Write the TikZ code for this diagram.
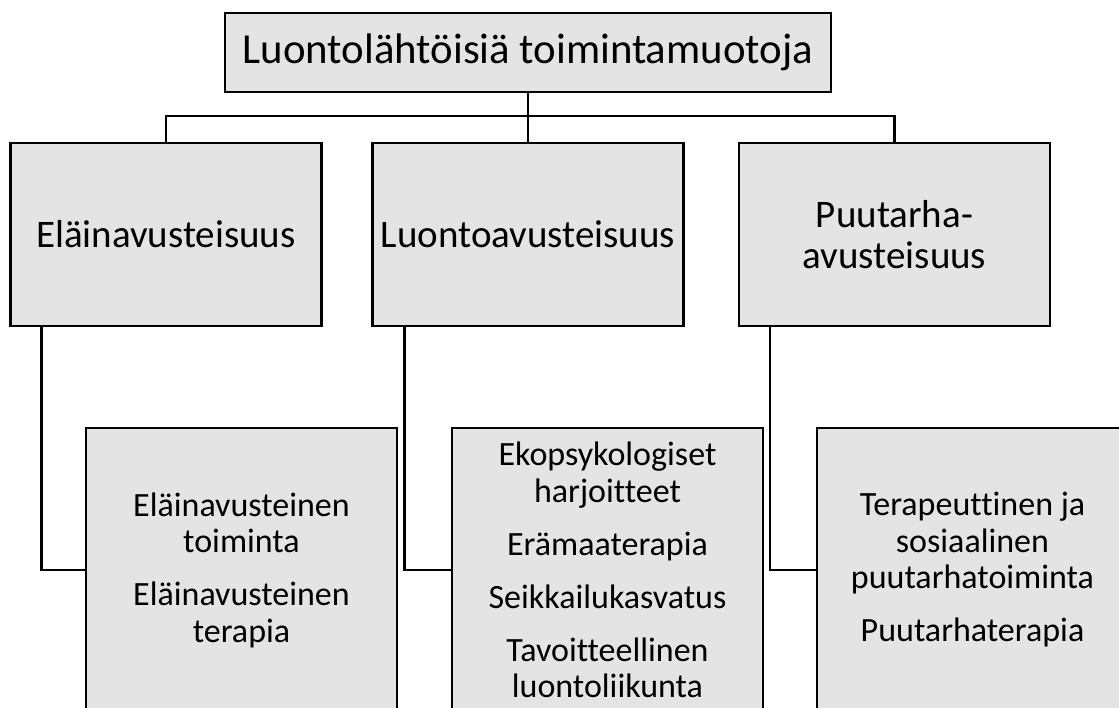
\documentclass[tikz,border=0pt]{standalone}
\usepackage{fontspec}
\setmainfont{Carlito}[Ligatures=NoCommon]
\definecolor{boxfill}{RGB}{228,228,228}
\begin{document}
\begin{tikzpicture}[x=1pt,y=-1pt,
  box/.style={draw=black,line width=2.2pt,fill=boxfill,rectangle,inner sep=0pt,align=center,text=black},
  topbox/.style={box,minimum width=606pt,minimum height=79pt,font=\fontsize{42.8}{46}\selectfont},
  midbox/.style={box,minimum width=311pt,minimum height=183pt,font=\fontsize{39}{41}\selectfont},
  lowbox/.style={box,minimum width=311pt,minimum height=284pt,font=\fontsize{34}{36.5}\selectfont},
  conn/.style={draw=black,line width=2.2pt}]
\useasboundingbox (0,0) rectangle (1119,707);
\clip (0,0) rectangle (1119,707);
\node[topbox] (top) at (528,52.5) {Luontolähtöisiä toimintamuotoja};
\node[midbox] (m1) at (166,234.5) {Eläinavusteisuus};
\node[midbox] (m2) at (528,234.5) {Luontoavusteisuus};
\node[midbox] (m3) at (894.5,234.5) {Puutarha-\\avusteisuus};
\coordinate (bus) at (0,116);
\draw[conn] (top.south) -- (m2.north);
\draw[conn] (m1.north) -- (m1.north |- bus) -- (m3.north |- bus) -- (m3.north);
\node[lowbox] (l1) at (241.5,570) {Eläinavusteinen\\toiminta\\[16.5pt]Eläinavusteinen\\terapia};
\node[lowbox] (l2) at (607.5,570) {Ekopsykologiset\\harjoitteet\\[16.5pt]Erämaaterapia\\[16.5pt]Seikkailukasvatus\\[16.5pt]Tavoitteellinen\\luontoliikunta};
\node[lowbox] (l3) at (972.5,570) {Terapeuttinen ja\\sosiaalinen\\puutarhatoiminta\\[16.5pt]Puutarhaterapia};
\draw[conn] ([xshift=32pt]m1.south west) |- (l1.west);
\draw[conn] ([xshift=33pt]m2.south west) |- (l2.west);
\draw[conn] ([xshift=32pt]m3.south west) |- (l3.west);
\end{tikzpicture}
\end{document}
